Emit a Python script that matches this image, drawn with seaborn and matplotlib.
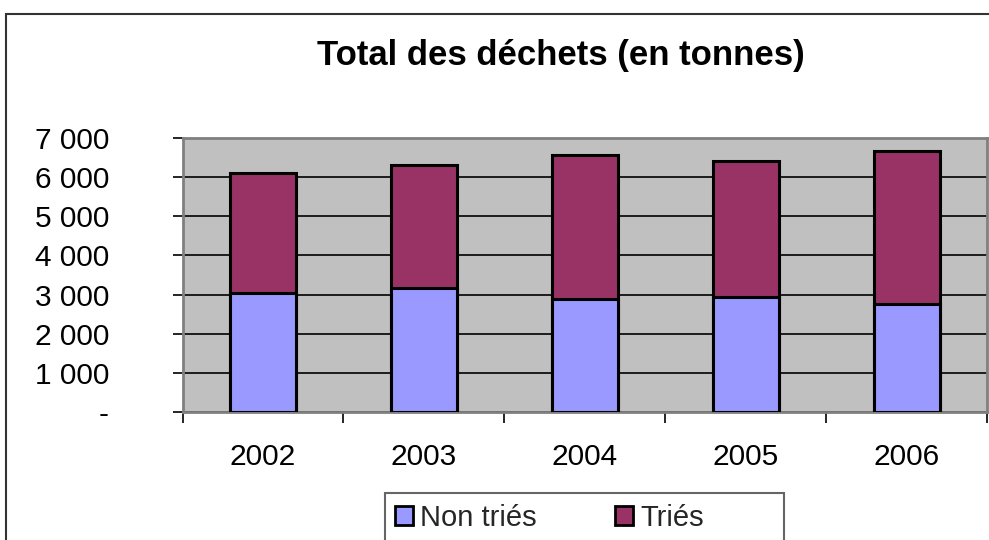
import matplotlib
matplotlib.use("Agg")
import matplotlib.pyplot as plt
import seaborn as sns
import pandas as pd
from matplotlib.patches import Rectangle, Patch

# ---- data ----
years = ["2002", "2003", "2004", "2005", "2006"]
non_tries = [3040, 3165, 2875, 2935, 2755]
tries = [3060, 3135, 3680, 3465, 3925]
y_ticks = [0, 1000, 2000, 3000, 4000, 5000, 6000, 7000]
y_labels = ["-", "1 000", "2 000", "3 000", "4 000", "5 000", "6 000", "7 000"]
title = "Total des déchets (en tonnes)"
series_names = ["Non triés", "Triés"]
colors = ["#9999FF", "#993366"]

sns.set_theme(style="white")
plt.rcParams['font.family'] = ['Liberation Sans', 'DejaVu Sans']

W, H = 989, 540
fig = plt.figure(figsize=(W / 100, H / 100), dpi=100)
fig.patch.set_facecolor("white")

left, right, top, bottom = 182.5, 987, 138, 412
ax = fig.add_axes([left / W, 1 - bottom / H, (right - left) / W, (bottom - top) / H])

df = pd.DataFrame({"year": years, "non": non_tries, "tries": tries})
df["total"] = df["non"] + df["tries"]

sns.barplot(data=df, x="year", y="total", color=colors[1], saturation=1,
            edgecolor="black", linewidth=2.2, width=0.41, errorbar=None, ax=ax, zorder=3)
sns.barplot(data=df, x="year", y="non", color=colors[0], saturation=1,
            edgecolor="black", linewidth=2.2, width=0.41, errorbar=None, ax=ax, zorder=4)

ax.set_facecolor("#C0C0C0")
ax.set_xlim(-0.5, len(years) - 0.5)
ax.set_ylim(0, 7000)
ax.set_yticks(y_ticks)
ax.set_yticklabels(y_labels)
ax.yaxis.grid(True, color="black", linewidth=1.2)
ax.set_axisbelow(True)

ax.set_xticks([i - 0.5 for i in range(len(years) + 1)])
ax.set_xticklabels([""] * (len(years) + 1))
ax.set_xticks(range(len(years)), minor=True)
ax.set_xticklabels(years, minor=True)
ax.tick_params(axis="x", which="major", direction="out", length=8, width=1.2, color="black", bottom=True)
ax.tick_params(axis="x", which="minor", length=0, pad=22, labelsize=21.5, colors="black", bottom=True)
ax.tick_params(axis="y", direction="out", length=7, width=1.2, color="black", pad=46,
               labelsize=21.5, labelcolor="black", left=True)
for lab in ax.get_yticklabels():
    lab.set_horizontalalignment("right")
ax.set_xlabel("")
ax.set_ylabel("")
for sp in ax.spines.values():
    sp.set_color("#808080")
    sp.set_linewidth(2)
    sp.set_visible(True)

# title
fig.text(561 / W, 1 - 56 / H, title, ha="center", va="center", fontsize=25, fontweight="bold", color="black")

# outer chart border
fig.patches.append(Rectangle((6 / W, -0.1), 1.2, 1 - 14 / H + 0.1, fill=False,
                             edgecolor="#333333", linewidth=1.5, transform=fig.transFigure))
# legend box
fig.patches.append(Rectangle((385 / W, -0.1), (784 - 385) / W, 1 - 493 / H + 0.1, fill=False,
                             edgecolor="#666666", linewidth=1.5, transform=fig.transFigure))

handles = [Patch(facecolor=c, edgecolor="black", linewidth=2, label=n) for c, n in zip(colors, series_names)]
fig.legend(handles=handles, loc="center left", bbox_to_anchor=(395 / W, 1 - 518 / H), ncol=2,
           frameon=False, fontsize=21, handlelength=0.6, handleheight=0.6, handletextpad=0.25,
           columnspacing=2.7, borderpad=0, borderaxespad=0)

fig.savefig("out.png", dpi=100)
